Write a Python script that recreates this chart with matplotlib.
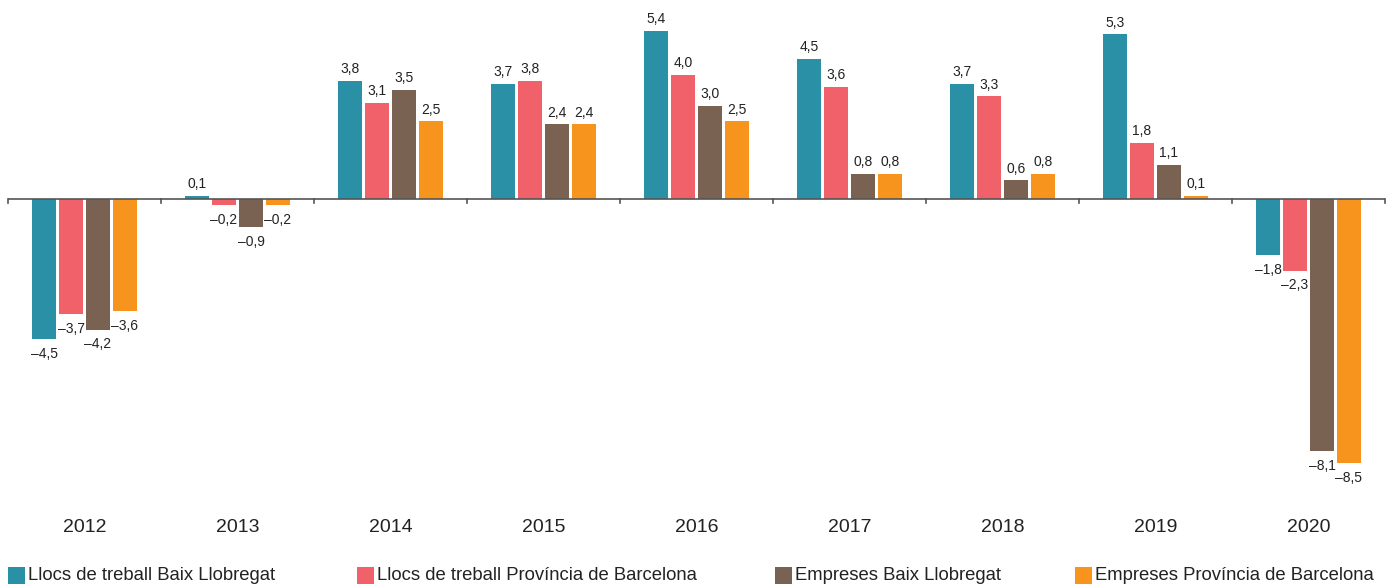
import matplotlib.pyplot as plt
import numpy as np
from matplotlib.patches import Rectangle
import matplotlib.transforms as mtransforms

plt.rcParams['font.family'] = ['Liberation Sans', 'DejaVu Sans']

years = ['2012', '2013', '2014', '2015', '2016', '2017', '2018', '2019', '2020']
llocs_baix = [-4.5, 0.1, 3.8, 3.7, 5.4, 4.5, 3.7, 5.3, -1.8]
llocs_prov = [-3.7, -0.2, 3.1, 3.8, 4.0, 3.6, 3.3, 1.8, -2.3]
empreses_baix = [-4.2, -0.9, 3.5, 2.4, 3.0, 0.8, 0.6, 1.1, -8.1]
empreses_prov = [-3.6, -0.2, 2.5, 2.4, 2.5, 0.8, 0.8, 0.1, -8.5]

series = [
    ('Llocs de treball Baix Llobregat', llocs_baix, '#2a90a6'),
    ('Llocs de treball Província de Barcelona', llocs_prov, '#f0616a'),
    ('Empreses Baix Llobregat', empreses_baix, '#7a6252'),
    ('Empreses Província de Barcelona', empreses_prov, '#f7941d'),
]

W, H = 1387, 585
fig = plt.figure(figsize=(W / 100, H / 100), dpi=100)
ax_top, ax_bot = 10, 480
ax = fig.add_axes([8 / W, 1 - ax_bot / H, (1385 - 8) / W, (ax_bot - ax_top) / H])

zero_px, px_per_unit = 199, 31.1
ax.set_ylim(-(ax_bot - zero_px) / px_per_unit, (zero_px - ax_top) / px_per_unit)
ax.set_xlim(0, len(years))

x = np.arange(len(years)) + 0.5
bw = 0.157
step = 0.176
offsets = (np.arange(4) - 1.5) * step

for i, (name, vals, col) in enumerate(series):
    xs = x + offsets[i]
    ax.bar(xs, vals, width=bw, color=col, zorder=2)
    for xi, v in zip(xs, vals):
        txt = f'{v:.1f}'.replace('.', ',').replace('-', '\u2013')
        if v >= 0:
            ax.text(xi, v + 0.15, txt, ha='center', va='bottom', fontsize=10, color='#222222')
        else:
            ax.text(xi, v - 0.25, txt, ha='center', va='top', fontsize=10, color='#222222')

# zero line with boundary ticks
ax.axhline(0, color='#555555', lw=1.2, zorder=3)
for b in range(len(years) + 1):
    ax.plot([b, b], [0, -0.13], color='#555555', lw=1.2, zorder=3, clip_on=False)

trans = mtransforms.blended_transform_factory(ax.transData, fig.transFigure)
for xi, yr in zip(x, years):
    ax.text(xi, 1 - 527 / H, yr, ha='center', va='center', fontsize=14, color='#222222',
            transform=trans)

for s in ax.spines.values():
    s.set_visible(False)
ax.set_xticks([])
ax.set_yticks([])

# legend drawn by hand so entries sit where the reference has them
legend_x = [8, 357, 775, 1075]
sq = 17
for lx, (name, _, col) in zip(legend_x, series):
    fig.patches.append(Rectangle((lx / W, 1 - 584 / H), sq / W, sq / H,
                                 transform=fig.transFigure, facecolor=col,
                                 edgecolor='none'))
    fig.text((lx + sq + 3) / W, 1 - 575 / H, name, ha='left', va='center',
             fontsize=13.3, color='#222222')

fig.savefig('out.png', dpi=100)
